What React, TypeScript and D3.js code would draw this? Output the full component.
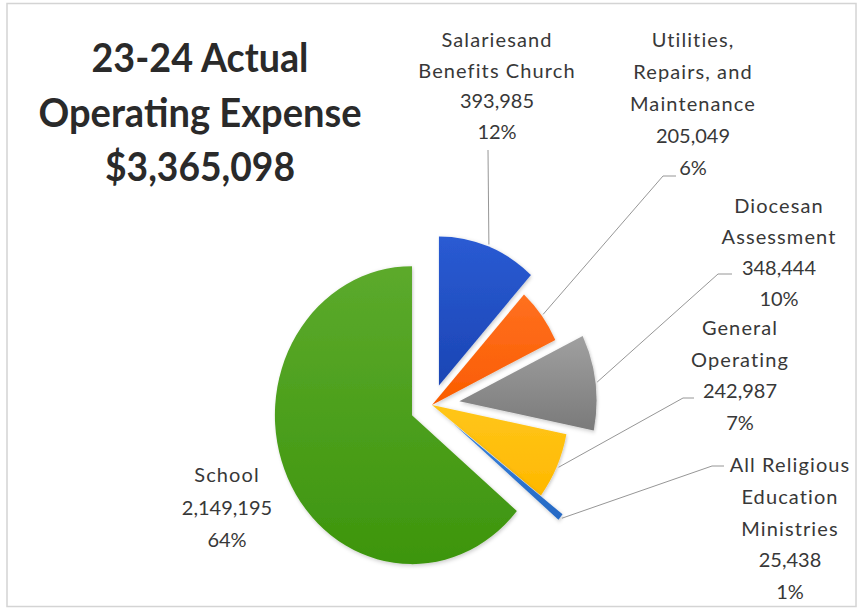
import React from 'react';
import * as d3 from 'd3';

// data
const categories = [
  'Salaries and Benefits Church',
  'Utilities, Repairs, and Maintenance',
  'Diocesan Assessment',
  'General Operating',
  'All Religious Education Ministries',
  'School',
];
const values = [393985, 205049, 348444, 242987, 25438, 2149195];
const labelNames = [
  ['Salariesand', 'Benefits Church'],
  ['Utilities,', 'Repairs, and', 'Maintenance'],
  ['Diocesan', 'Assessment'],
  ['General', 'Operating'],
  ['All Religious', 'Education', 'Ministries'],
  ['School'],
];
const titleLines = ['23-24 Actual', 'Operating Expense'];

// styles
const colors = [
  ['#2a5bd3', '#1b45b4'],
  ['#ff7020', '#fa5c00'],
  ['#a0a0a0', '#7a7a7a'],
  ['#ffc61a', '#ffb800'],
  ['#3a83dc', '#2468c4'],
  ['#5caa2c', '#3d950d'],
];
const explode = [21, 0, 30, 0, 30, 24];

// label layout: centre x, first line centre y, line height, leader elbow points
const labelLayout = [
  { x: 497, y: 40, lh: 30.5, leader: [[488, 150]] },
  { x: 693, y: 40, lh: 32, leader: [[663, 176], [676, 176]] },
  { x: 779, y: 206, lh: 31, leader: [[718, 274], [732, 274]] },
  { x: 740, y: 328, lh: 31.5, leader: [[683, 398], [694, 398]] },
  { x: 790, y: 465, lh: 31.75, leader: [[712, 466], [724, 466]] },
  { x: 227, y: 475, lh: 32.5, leader: [] as number[][] },
];

const W = 862;
const H = 610;
const cx = 432;
const cy = 405;
const R = 149;
const SX = 0.92;

const fmt = d3.format(',');
const pct = d3.format('.0%');

export default function App() {
  const total = d3.sum(values);
  const arcs = d3.pie<number>().sort(null).value(d => d)(values);
  const arc = d3.arc<d3.PieArcDatum<number>>().innerRadius(0).outerRadius(R);

  const offsetOf = (d: d3.PieArcDatum<number>, i: number) => {
    const mid = (d.startAngle + d.endAngle) / 2;
    return [explode[i] * Math.sin(mid), -explode[i] * Math.cos(mid)];
  };

  const labelFont = 'Lato, "Open Sans", sans-serif';

  return (
    <div style={{ position: 'absolute', left: 0, top: 0 }}>
      <svg width={W} height={H} style={{ display: 'block', background: '#fff' }}>
        <defs>
          {colors.map((c, i) => (
            <linearGradient key={i} id={`g${i}`} x1="0" y1="0" x2="0" y2="1">
              <stop offset="0%" stopColor={c[0]} />
              <stop offset="100%" stopColor={c[1]} />
            </linearGradient>
          ))}
          <filter id="soft" x="-20%" y="-20%" width="140%" height="140%">
            <feDropShadow dx="1" dy="1.5" stdDeviation="2" floodColor="#000" floodOpacity="0.22" />
          </filter>
        </defs>

        <rect x={7} y={3.5} width={849} height={603} fill="#fff" stroke="#d4d4d4" strokeWidth={1.5} />

        {/* title */}
        <g fontFamily='Lato, "Open Sans", sans-serif' fontWeight={700} fontSize={40} fill="#2a2a2a" textAnchor="middle">
          {[...titleLines, '$' + fmt(total)].map((t, i) => (
            <text key={i} x={200} y={72 + i * 54.5} textLength={[217, 323, 190][i]} lengthAdjust="spacingAndGlyphs">
              {t}
            </text>
          ))}
        </g>

        {/* slices */}
        <g transform={`translate(${cx},${cy}) scale(${SX},1)`}>
          {arcs.map((d, i) => {
            const [ox, oy] = offsetOf(d, i);
            return (
              <path
                key={categories[i]}
                d={arc(d) || ''}
                transform={`translate(${ox},${oy})`}
                fill={`url(#g${i})`}
                filter="url(#soft)"
              />
            );
          })}
        </g>

        {/* leader lines */}
        {arcs.map((d, i) => {
          const pts = labelLayout[i].leader;
          if (!pts.length) return null;
          const mid = (d.startAngle + d.endAngle) / 2;
          const [ox, oy] = offsetOf(d, i);
          const sx = cx + SX * (ox + (R + 2) * Math.sin(mid));
          const sy = cy + oy - (R + 2) * Math.cos(mid);
          const line = d3.line()([[sx, sy], ...(pts as [number, number][])]);
          return <path key={i} d={line || ''} fill="none" stroke="#8a8a8a" strokeWidth={0.9} />;
        })}

        {/* data labels: names get the loose spacing of the original, numbers don't */}
        <g fontFamily={labelFont} fontSize={20} fill="#383838" textAnchor="middle">
          {arcs.map((d, i) => {
            const L = labelLayout[i];
            const names = labelNames[i];
            const lines = [...names, fmt(values[i]), pct(values[i] / total)];
            return (
              <g key={i}>
                {lines.map((t, j) => (
                  <text
                    key={j}
                    x={L.x}
                    y={L.y + j * L.lh}
                    dy="0.35em"
                    letterSpacing={j < names.length ? 1.1 : 0}
                  >
                    {t}
                  </text>
                ))}
              </g>
            );
          })}
        </g>
      </svg>
    </div>
  );
}
